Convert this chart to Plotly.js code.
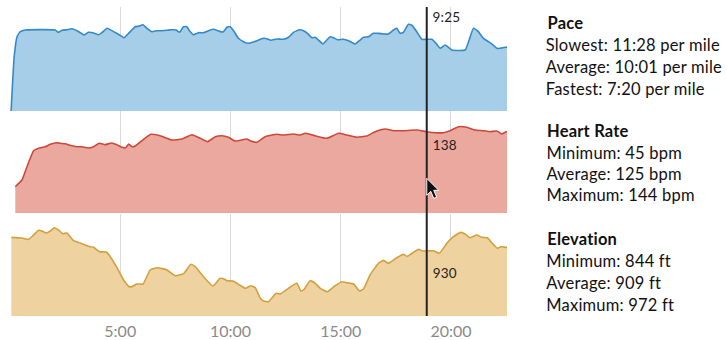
<!DOCTYPE html>
<html>
<head>
<meta charset="utf-8">
<script src="https://cdn.plot.ly/plotly-3.0.1.min.js"></script>
<style>html,body{margin:0;padding:0;background:#fff;}#chart{width:727px;height:340px;}
#chart .annotation-text{letter-spacing:0.2px;}</style>
</head>
<body>
<div id="chart"></div>
<script>
// Time in minutes
var paceTime = [0.05,0.19,0.32,0.47,0.69,2.05,2.20,2.36,2.58,2.81,3.04,3.37,3.56,3.76,4.02,4.17,4.40,4.70,4.97,5.18,5.38,5.68,5.83,6.03,6.21,6.44,6.66,6.89,7.12,7.34,7.54,7.69,7.87,8.02,8.14,8.32,8.55,8.78,9.00,9.23,9.46,9.66,9.84,9.99,10.14,10.36,10.59,10.82,11.04,11.20,11.50,11.65,11.83,12.10,12.40,12.63,12.86,13.13,13.31,13.49,13.69,13.84,13.99,14.19,14.37,14.52,14.67,14.85,15.12,15.35,15.65,15.88,16.03,16.26,16.48,16.71,16.94,17.16,17.39,17.54,17.69,17.84,18.07,18.22,18.45,18.68,18.90,19.13,19.32,19.51,19.73,19.88,20.04,20.64,21.02,21.24,21.47,21.70,21.85,22.08,22.23,22.45,22.54];
// Pace in minutes per mile
var paceValues = [19.4,11.84,9.06,8.36,8.13,8.13,8.45,8.17,8.09,7.95,8.23,8.82,8.45,8.50,8.78,8.50,7.89,8.36,8.82,9.20,8.59,7.67,7.61,7.39,7.89,8.36,8.23,8.23,8.17,8.09,8.13,8.45,7.67,7.67,8.23,8.78,8.50,8.50,8.23,8.03,8.27,8.41,7.75,7.67,8.23,9.28,9.75,9.98,9.80,9.61,9.28,9.34,9.56,9.38,9.42,9.14,8.45,8.09,8.23,8.59,9.20,9.14,9.52,10.07,9.52,9.06,9.20,9.48,9.42,9.61,10.07,9.52,9.14,9.06,8.59,8.59,8.68,8.68,8.13,7.89,8.59,8.45,7.33,7.47,8.36,9.42,9.42,9.42,9.98,10.67,10.21,10.53,10.91,10.91,7.89,8.36,9.28,9.75,10.07,10.67,10.67,10.53,10.53];

var hrTime = [0.24,0.54,0.77,1.07,1.30,1.60,1.83,2.10,2.28,2.51,2.73,3.04,3.26,3.56,3.79,4.05,4.32,4.59,4.85,5.08,5.24,5.38,5.53,5.68,6.06,6.39,6.81,7.34,7.80,8.25,8.63,8.96,9.31,9.61,9.91,10.21,10.74,10.89,11.20,11.57,12.10,12.40,12.86,13.16,13.39,13.84,14.37,14.90,15.28,15.73,16.18,16.56,17.01,17.39,17.84,18.45,18.90,19.28,19.66,19.96,20.34,20.72,21.09,21.47,21.77,22.08,22.30,22.50,22.54];
// Heart rate in bpm
var hrValues = [83.3,90,103.3,119.3,121.7,123.3,125.7,127.3,126.7,126.3,124.7,123.3,123.3,122,123.3,126.7,125.3,127,125.3,122.7,122,126,123.3,124,130.7,135.7,134.3,130,131,135.3,131.7,128.3,133.3,134.3,132.7,129,131,129.3,127.7,133.3,135.7,135,136,135,136.7,134.3,131.7,136.7,135,132.7,134,138.3,141,139.3,139.3,140,138.3,137.3,137.3,139.3,143.3,142.7,140,139.3,138.3,139,136,138.3,138.3];

var elevTime = [0.06,0.54,0.84,1.04,1.30,1.45,1.65,1.83,2.02,2.20,2.40,2.58,2.88,3.19,3.56,3.79,4.06,4.37,4.55,4.85,5.15,5.41,5.53,5.73,6.03,6.36,6.69,7.12,7.49,7.87,8.20,8.40,8.78,9.20,9.53,9.71,9.84,10.11,10.36,10.67,10.92,11.12,11.35,11.50,11.72,12.07,12.25,12.63,13.01,13.19,13.34,13.61,13.84,14.07,14.40,14.75,15.05,15.28,15.58,15.85,16.03,16.33,16.71,16.94,17.16,17.54,17.84,18.02,18.30,18.52,18.72,18.90,19.20,19.47,19.81,20.11,20.44,20.64,20.87,21.17,21.40,21.65,21.85,22.10,22.26,22.50,22.54];
// Elevation in feet
var elevValues = [961.9,960.6,958.1,965,975.2,973.9,970.1,973.9,980.2,975.8,968.8,970.1,955.5,951.1,944.8,942.9,934.6,934,925.1,904.2,880.8,868.1,868.1,873.2,873.2,899.8,904.2,899.8,889,892.8,910.6,906.1,887.1,869.4,884,882.7,879.5,878.9,872.6,865,870,866.2,846,840.9,839.6,855.5,854.2,865,874.5,859.9,863.1,879.5,874.5,865,858.6,870,877.6,875.7,873.2,859.9,863.7,890.3,912.5,918.2,912.5,923.2,929.6,925.8,933.4,939.1,935.9,935.9,936.5,931.5,950.5,963.1,971.4,968.2,961.2,966.3,961.9,961.2,951.7,941,944.1,942.9,942.9];

var tickVals = [5,10,15,20];
var tickText = ["5:00","10:00","15:00","20:00"];

var cursorTime = 18.9;
var cursorLabels = ["9:25","138","930"];

var statTitles = ["Pace","Heart Rate","Elevation"];
var paceStats = ["Slowest: 11:28 per mile","Average: 10:01 per mile","Fastest: 7:20 per mile"];
var hrStats = ["Minimum: 45 bpm","Average: 125 bpm","Maximum: 144 bpm"];
var elevStats = ["Minimum: 844 ft","Average: 909 ft","Maximum: 972 ft"];

var FONT = "Lato, 'Open Sans', sans-serif";

var traces = [
  {x:[paceTime[0], paceTime[paceTime.length-1]], y:[30,30], xaxis:'x', yaxis:'y', mode:'lines', line:{width:0}, hoverinfo:'skip', showlegend:false},
  {x:paceTime, y:paceValues, xaxis:'x', yaxis:'y', mode:'lines', fill:'tonexty', fillcolor:'rgb(166,206,232)', line:{color:'rgb(52,138,200)', width:1.6, shape:'spline', smoothing:0.4}, showlegend:false},
  {x:hrTime, y:hrValues, xaxis:'x', yaxis:'y2', mode:'lines', fill:'tozeroy', fillcolor:'rgb(234,168,158)', line:{color:'rgb(206,72,58)', width:1.6, shape:'spline', smoothing:0.4}, showlegend:false},
  {x:elevTime, y:elevValues, xaxis:'x', yaxis:'y3', mode:'lines', fill:'tozeroy', fillcolor:'rgb(238,210,160)', line:{color:'rgb(212,160,62)', width:1.6, shape:'spline', smoothing:0.4}, showlegend:false}
];

var annotations = [];
function addText(txt, y, bold) {
  annotations.push({xref:'paper', yref:'paper', x:(547-10)/497, xshift:-1, y:y, xanchor:'left', yanchor:'middle', showarrow:false,
    text: bold ? '<b>'+txt+'</b>' : txt, font:{family:FONT, size:16.5, color:'#111'}});
}
var blocks = [[statTitles[0], paceStats, 0.9482, [0.877,0.8058,0.7362]],
              [statTitles[1], hrStats, 0.6003, [0.5291,0.4595,0.3900]],
              [statTitles[2], elevStats, 0.2508, [0.1796,0.1084,0.0372]]];
blocks.forEach(function(b){
  addText(b[0], b[2], true);
  b[1].forEach(function(s, i){ addText(s, b[3][i], false); });
});
var labelY = [0.9667, 0.5544, 0.1382];
cursorLabels.forEach(function(l, i){
  annotations.push({xref:'x', yref:'paper', x:cursorTime, xshift:4, y:labelY[i], xanchor:'left', yanchor:'middle', showarrow:false,
    text:l, font:{family:FONT, size:13.5, color:'#222'}});
});

var layout = {
  width:727, height:340,
  margin:{l:10, r:220, t:7, b:24, pad:0},
  paper_bgcolor:'#fff', plot_bgcolor:'#fff',
  showlegend:false,
  xaxis:{range:[0,22.54], tickvals:tickVals, ticktext:tickText, showgrid:true, gridcolor:'#d9d9d9', gridwidth:1,
         zeroline:false, showline:false, ticks:'', ticklabelstandoff:4, tickfont:{family:FONT, size:16, color:'#8a8a8a'}, anchor:'y3', fixedrange:true},
  yaxis:{domain:[0.6634,1], range:[19.39,4.93], showgrid:false, zeroline:false, showticklabels:false, fixedrange:true},
  yaxis2:{domain:[0.3333,0.6634], range:[57,159], showgrid:false, zeroline:false, showticklabels:false, fixedrange:true},
  yaxis3:{domain:[0,0.330], range:[812.4,1006.2], showgrid:false, zeroline:false, showticklabels:false, fixedrange:true},
  shapes:[
    {type:'line', xref:'x', yref:'paper', x0:cursorTime, x1:cursorTime, y0:0, y1:1, line:{color:'#222', width:2}, layer:'above'},
    {type:'path', xref:'x', yref:'y2', xsizemode:'pixel', ysizemode:'pixel', xanchor:cursorTime, yanchor:91.7,
     path:'M0,0 L0,-17 L4,-13 L7,-20 L10,-19 L7,-12 L12,-12 Z', fillcolor:'#111', line:{color:'#fff', width:1}, layer:'above'}
  ],
  annotations:annotations
};

Plotly.newPlot('chart', traces, layout, {staticPlot:true, displayModeBar:false});
</script>
</body>
</html>
